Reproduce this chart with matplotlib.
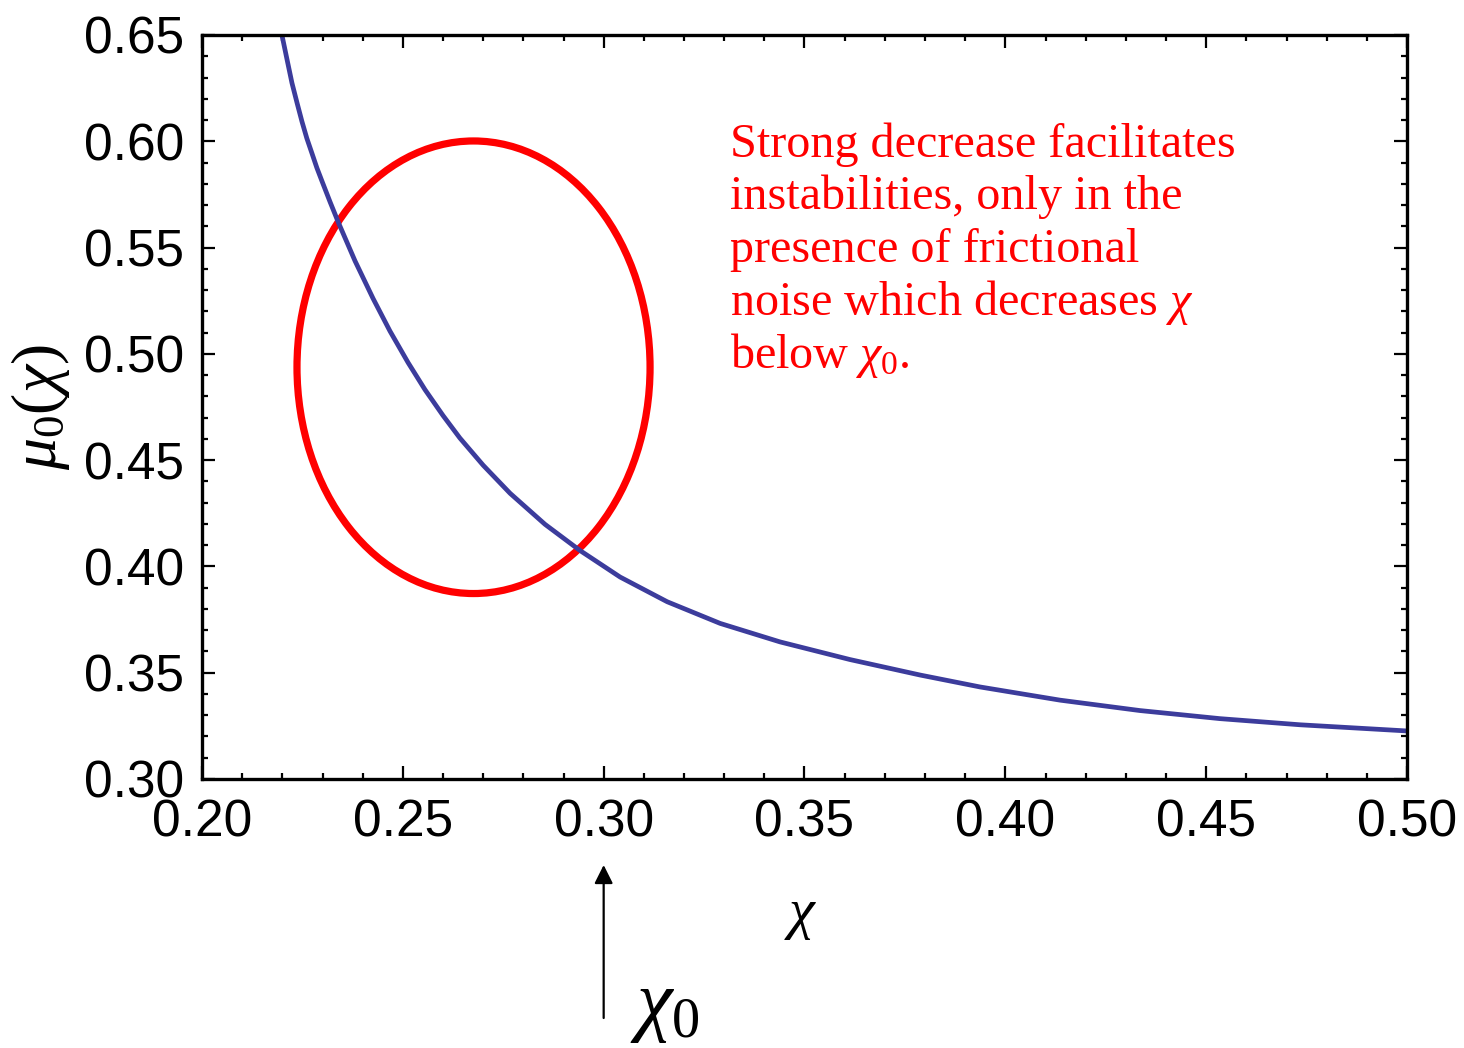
import matplotlib
matplotlib.use("Agg")
import matplotlib.pyplot as plt
from matplotlib.patches import Ellipse
from matplotlib.ticker import MultipleLocator, FormatStrFormatter

plt.rcParams['mathtext.fontset'] = 'custom'
plt.rcParams['mathtext.rm'] = 'Liberation Serif'
plt.rcParams['mathtext.it'] = 'Liberation Serif:italic'
plt.rcParams['mathtext.bf'] = 'Liberation Serif:bold'

# ---- data ----
chi = [0.2199, 0.2212, 0.2224, 0.2237, 0.2249, 0.2261, 0.2274, 0.2286, 0.2299,
       0.2319, 0.2340, 0.2381, 0.2426, 0.2468, 0.2513, 0.2555, 0.2600, 0.2642,
       0.2700, 0.2767, 0.2854, 0.2941, 0.3041, 0.3158, 0.3290, 0.3439, 0.3613,
       0.3788, 0.3937, 0.4136, 0.4335, 0.4534, 0.4734, 0.5000]
mu0 = [0.6500, 0.6382, 0.6274, 0.6178, 0.6092, 0.6014, 0.5942, 0.5875, 0.5811,
       0.5714, 0.5616, 0.5437, 0.5260, 0.5107, 0.4959, 0.4832, 0.4710, 0.4604,
       0.4476, 0.4344, 0.4198, 0.4075, 0.3950, 0.3834, 0.3732, 0.3645, 0.3562,
       0.3489, 0.3433, 0.3371, 0.3322, 0.3284, 0.3255, 0.3226]

xticks = [0.20, 0.25, 0.30, 0.35, 0.40, 0.45, 0.50]
yticks = [0.30, 0.35, 0.40, 0.45, 0.50, 0.55, 0.60, 0.65]

ellipse_center = (0.2676, 0.4937)
ellipse_width = 0.0879
ellipse_height = 0.2129

chi0 = 0.30

note_lines = ["Strong decrease facilitates",
              "instabilities, only in the",
              "presence of frictional",
              r"noise which decreases $\chi$",
              r"below $\chi_{0}$."]

W, H = 1464, 1048
fig = plt.figure(figsize=(W / 100, H / 100), dpi=100)
ax = fig.add_axes([202 / W, 1 - 779 / H, 1205 / W, 744 / H])

ax.plot(chi, mu0, color='#3c3c9c', lw=3.4, solid_capstyle='butt',
        solid_joinstyle='round')

ax.add_patch(Ellipse(ellipse_center, ellipse_width, ellipse_height,
                     fill=False, edgecolor='#ff0000', lw=5.2))

ax.set_xlim(0.20, 0.50)
ax.set_ylim(0.30, 0.65)
ax.set_xticks(xticks)
ax.set_yticks(yticks)
ax.xaxis.set_minor_locator(MultipleLocator(0.01))
ax.yaxis.set_minor_locator(MultipleLocator(0.01))
ax.xaxis.set_major_formatter(FormatStrFormatter('%.2f'))
ax.yaxis.set_major_formatter(FormatStrFormatter('%.2f'))

for s in ax.spines.values():
    s.set_linewidth(2.4)
ax.tick_params(which='both', direction='in', top=True, right=True, width=1.6)
ax.tick_params(which='major', length=9.5)
ax.tick_params(which='minor', length=4.5)
ax.tick_params(axis='x', which='major', pad=14)
ax.tick_params(axis='y', which='major', pad=13)
for lab in ax.get_xticklabels() + ax.get_yticklabels():
    lab.set_fontfamily('Liberation Sans')
    lab.set_fontsize(37)

# axis labels
fig.text(801 / W, 1 - 914 / H, r'$\chi$', fontsize=42, ha='center', va='center')
fig.text(40 / W, 1 - 407 / H, r'$\mu_0(\chi)$', fontsize=46, rotation=90,
         ha='center', va='center')

# annotation text
baselines = [157, 209, 262, 315, 368]
for line, b in zip(note_lines, baselines):
    fig.text(730 / W, 1 - b / H, line, color='#ff0000', fontsize=34.7,
             family='Liberation Serif', ha='left', va='baseline')

# chi0 arrow and label
ax.annotate('', xy=(chi0, 1 - 865 / H), xycoords=('data', 'figure fraction'),
            xytext=(chi0, 1 - 1018 / H), textcoords=('data', 'figure fraction'),
            arrowprops=dict(arrowstyle='-|>', color='black', lw=1.6,
                            mutation_scale=28, shrinkA=0, shrinkB=0),
            annotation_clip=False)
fig.text(630 / W, 1 - 1026 / H, r'$\chi_0$', fontsize=58, ha='left', va='baseline')

fig.savefig('out.png', dpi=100, facecolor='white')
